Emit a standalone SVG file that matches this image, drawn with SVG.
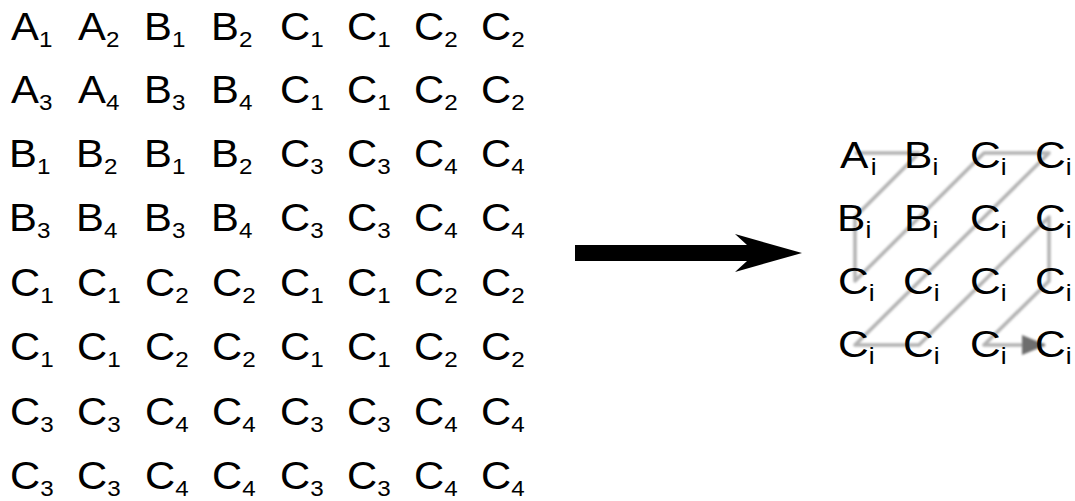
<svg xmlns="http://www.w3.org/2000/svg" width="1075" height="501" viewBox="0 0 1075 501">
<style>
.t{font-family:"Liberation Sans",Arial,sans-serif;font-size:38px;fill:#000}
.r{font-family:"Liberation Sans",Arial,sans-serif;font-size:37px;fill:#000}
.s{font-size:22px}
.si{font-size:23px}
.conn{fill:none;stroke:#b2b2b2;stroke-width:3.5;stroke-linejoin:round}
</style>
<defs>
<filter id="soft" x="-10%" y="-10%" width="120%" height="120%"><feGaussianBlur stdDeviation="1"/></filter>
<marker id="ah" markerWidth="24" markerHeight="20" refX="23" refY="10" orient="auto" markerUnits="userSpaceOnUse"><path d="M0,0 L24,10 L0,20 z" fill="#6e6e6e"/></marker>
</defs>
<rect width="1075" height="501" fill="#fff"/>
<g id="connectors">
<g filter="url(#soft)">
<path class="conn" d="M855 153 L919 153 L855 217 L855 281 L984 153 L1049 153 L855 345 L919 345 L1049 217 L1049 281 L984 345 L1045 345" marker-end="url(#ah)"/>
</g>
<polygon id="big-arrow" points="575,245 747,245 735,234 802,253 735,272 747,261 575,261" fill="#000"/>
</g>
<g id="left-grid">
<g id="n1_1" transform="translate(11 40) scale(1.1 1)"><text class="t">A<tspan class="s" dy="7">1</tspan></text></g>
<g id="n1_2" transform="translate(78 40) scale(1.1 1)"><text class="t">A<tspan class="s" dy="7">2</tspan></text></g>
<g id="n1_3" transform="translate(144 40) scale(1.1 1)"><text class="t">B<tspan class="s" dy="7">1</tspan></text></g>
<g id="n1_4" transform="translate(211 40) scale(1.1 1)"><text class="t">B<tspan class="s" dy="7">2</tspan></text></g>
<g id="n1_5" transform="translate(280 40) scale(1.1 1)"><text class="t">C<tspan class="s" dy="7">1</tspan></text></g>
<g id="n1_6" transform="translate(347 40) scale(1.1 1)"><text class="t">C<tspan class="s" dy="7">1</tspan></text></g>
<g id="n1_7" transform="translate(414 40) scale(1.1 1)"><text class="t">C<tspan class="s" dy="7">2</tspan></text></g>
<g id="n1_8" transform="translate(481 40) scale(1.1 1)"><text class="t">C<tspan class="s" dy="7">2</tspan></text></g>

<g id="n2_1" transform="translate(11 103) scale(1.1 1)"><text class="t">A<tspan class="s" dy="7">3</tspan></text></g>
<g id="n2_2" transform="translate(78 103) scale(1.1 1)"><text class="t">A<tspan class="s" dy="7">4</tspan></text></g>
<g id="n2_3" transform="translate(144 103) scale(1.1 1)"><text class="t">B<tspan class="s" dy="7">3</tspan></text></g>
<g id="n2_4" transform="translate(211 103) scale(1.1 1)"><text class="t">B<tspan class="s" dy="7">4</tspan></text></g>
<g id="n2_5" transform="translate(280 103) scale(1.1 1)"><text class="t">C<tspan class="s" dy="7">1</tspan></text></g>
<g id="n2_6" transform="translate(347 103) scale(1.1 1)"><text class="t">C<tspan class="s" dy="7">1</tspan></text></g>
<g id="n2_7" transform="translate(414 103) scale(1.1 1)"><text class="t">C<tspan class="s" dy="7">2</tspan></text></g>
<g id="n2_8" transform="translate(481 103) scale(1.1 1)"><text class="t">C<tspan class="s" dy="7">2</tspan></text></g>

<g id="n3_1" transform="translate(9 167) scale(1.1 1)"><text class="t">B<tspan class="s" dy="7">1</tspan></text></g>
<g id="n3_2" transform="translate(76 167) scale(1.1 1)"><text class="t">B<tspan class="s" dy="7">2</tspan></text></g>
<g id="n3_3" transform="translate(144 167) scale(1.1 1)"><text class="t">B<tspan class="s" dy="7">1</tspan></text></g>
<g id="n3_4" transform="translate(211 167) scale(1.1 1)"><text class="t">B<tspan class="s" dy="7">2</tspan></text></g>
<g id="n3_5" transform="translate(280 167) scale(1.1 1)"><text class="t">C<tspan class="s" dy="7">3</tspan></text></g>
<g id="n3_6" transform="translate(347 167) scale(1.1 1)"><text class="t">C<tspan class="s" dy="7">3</tspan></text></g>
<g id="n3_7" transform="translate(414 167) scale(1.1 1)"><text class="t">C<tspan class="s" dy="7">4</tspan></text></g>
<g id="n3_8" transform="translate(481 167) scale(1.1 1)"><text class="t">C<tspan class="s" dy="7">4</tspan></text></g>

<g id="n4_1" transform="translate(9 231) scale(1.1 1)"><text class="t">B<tspan class="s" dy="7">3</tspan></text></g>
<g id="n4_2" transform="translate(76 231) scale(1.1 1)"><text class="t">B<tspan class="s" dy="7">4</tspan></text></g>
<g id="n4_3" transform="translate(144 231) scale(1.1 1)"><text class="t">B<tspan class="s" dy="7">3</tspan></text></g>
<g id="n4_4" transform="translate(211 231) scale(1.1 1)"><text class="t">B<tspan class="s" dy="7">4</tspan></text></g>
<g id="n4_5" transform="translate(280 231) scale(1.1 1)"><text class="t">C<tspan class="s" dy="7">3</tspan></text></g>
<g id="n4_6" transform="translate(347 231) scale(1.1 1)"><text class="t">C<tspan class="s" dy="7">3</tspan></text></g>
<g id="n4_7" transform="translate(414 231) scale(1.1 1)"><text class="t">C<tspan class="s" dy="7">4</tspan></text></g>
<g id="n4_8" transform="translate(481 231) scale(1.1 1)"><text class="t">C<tspan class="s" dy="7">4</tspan></text></g>

<g id="n5_1" transform="translate(10 296) scale(1.1 1)"><text class="t">C<tspan class="s" dy="7">1</tspan></text></g>
<g id="n5_2" transform="translate(77 296) scale(1.1 1)"><text class="t">C<tspan class="s" dy="7">1</tspan></text></g>
<g id="n5_3" transform="translate(145 296) scale(1.1 1)"><text class="t">C<tspan class="s" dy="7">2</tspan></text></g>
<g id="n5_4" transform="translate(212 296) scale(1.1 1)"><text class="t">C<tspan class="s" dy="7">2</tspan></text></g>
<g id="n5_5" transform="translate(280 296) scale(1.1 1)"><text class="t">C<tspan class="s" dy="7">1</tspan></text></g>
<g id="n5_6" transform="translate(347 296) scale(1.1 1)"><text class="t">C<tspan class="s" dy="7">1</tspan></text></g>
<g id="n5_7" transform="translate(414 296) scale(1.1 1)"><text class="t">C<tspan class="s" dy="7">2</tspan></text></g>
<g id="n5_8" transform="translate(481 296) scale(1.1 1)"><text class="t">C<tspan class="s" dy="7">2</tspan></text></g>

<g id="n6_1" transform="translate(10 360) scale(1.1 1)"><text class="t">C<tspan class="s" dy="7">1</tspan></text></g>
<g id="n6_2" transform="translate(77 360) scale(1.1 1)"><text class="t">C<tspan class="s" dy="7">1</tspan></text></g>
<g id="n6_3" transform="translate(145 360) scale(1.1 1)"><text class="t">C<tspan class="s" dy="7">2</tspan></text></g>
<g id="n6_4" transform="translate(212 360) scale(1.1 1)"><text class="t">C<tspan class="s" dy="7">2</tspan></text></g>
<g id="n6_5" transform="translate(280 360) scale(1.1 1)"><text class="t">C<tspan class="s" dy="7">1</tspan></text></g>
<g id="n6_6" transform="translate(347 360) scale(1.1 1)"><text class="t">C<tspan class="s" dy="7">1</tspan></text></g>
<g id="n6_7" transform="translate(414 360) scale(1.1 1)"><text class="t">C<tspan class="s" dy="7">2</tspan></text></g>
<g id="n6_8" transform="translate(481 360) scale(1.1 1)"><text class="t">C<tspan class="s" dy="7">2</tspan></text></g>

<g id="n7_1" transform="translate(10 425) scale(1.1 1)"><text class="t">C<tspan class="s" dy="7">3</tspan></text></g>
<g id="n7_2" transform="translate(77 425) scale(1.1 1)"><text class="t">C<tspan class="s" dy="7">3</tspan></text></g>
<g id="n7_3" transform="translate(145 425) scale(1.1 1)"><text class="t">C<tspan class="s" dy="7">4</tspan></text></g>
<g id="n7_4" transform="translate(212 425) scale(1.1 1)"><text class="t">C<tspan class="s" dy="7">4</tspan></text></g>
<g id="n7_5" transform="translate(280 425) scale(1.1 1)"><text class="t">C<tspan class="s" dy="7">3</tspan></text></g>
<g id="n7_6" transform="translate(347 425) scale(1.1 1)"><text class="t">C<tspan class="s" dy="7">3</tspan></text></g>
<g id="n7_7" transform="translate(414 425) scale(1.1 1)"><text class="t">C<tspan class="s" dy="7">4</tspan></text></g>
<g id="n7_8" transform="translate(481 425) scale(1.1 1)"><text class="t">C<tspan class="s" dy="7">4</tspan></text></g>

<g id="n8_1" transform="translate(10 489) scale(1.1 1)"><text class="t">C<tspan class="s" dy="7">3</tspan></text></g>
<g id="n8_2" transform="translate(77 489) scale(1.1 1)"><text class="t">C<tspan class="s" dy="7">3</tspan></text></g>
<g id="n8_3" transform="translate(145 489) scale(1.1 1)"><text class="t">C<tspan class="s" dy="7">4</tspan></text></g>
<g id="n8_4" transform="translate(212 489) scale(1.1 1)"><text class="t">C<tspan class="s" dy="7">4</tspan></text></g>
<g id="n8_5" transform="translate(280 489) scale(1.1 1)"><text class="t">C<tspan class="s" dy="7">3</tspan></text></g>
<g id="n8_6" transform="translate(347 489) scale(1.1 1)"><text class="t">C<tspan class="s" dy="7">3</tspan></text></g>
<g id="n8_7" transform="translate(414 489) scale(1.1 1)"><text class="t">C<tspan class="s" dy="7">4</tspan></text></g>
<g id="n8_8" transform="translate(481 489) scale(1.1 1)"><text class="t">C<tspan class="s" dy="7">4</tspan></text></g>
</g>
<g id="right-grid">
<g id="m1_1" transform="translate(840 168) scale(1.15 1)"><text class="r">A<tspan class="si" dx="2" dy="7">i</tspan></text></g>
<g id="m1_2" transform="translate(904 168) scale(1.15 1)"><text class="r">B<tspan class="si" dy="7">i</tspan></text></g>
<g id="m1_3" transform="translate(970 168) scale(1.15 1)"><text class="r">C<tspan class="si" dy="7">i</tspan></text></g>
<g id="m1_4" transform="translate(1035 168) scale(1.15 1)"><text class="r">C<tspan class="si" dy="7">i</tspan></text></g>
<g id="m2_1" transform="translate(837 231) scale(1.15 1)"><text class="r">B<tspan class="si" dy="7">i</tspan></text></g>
<g id="m2_2" transform="translate(904 231) scale(1.15 1)"><text class="r">B<tspan class="si" dy="7">i</tspan></text></g>
<g id="m2_3" transform="translate(970 231) scale(1.15 1)"><text class="r">C<tspan class="si" dy="7">i</tspan></text></g>
<g id="m2_4" transform="translate(1035 231) scale(1.15 1)"><text class="r">C<tspan class="si" dy="7">i</tspan></text></g>
<g id="m3_1" transform="translate(838 294) scale(1.15 1)"><text class="r">C<tspan class="si" dy="7">i</tspan></text></g>
<g id="m3_2" transform="translate(903 294) scale(1.15 1)"><text class="r">C<tspan class="si" dy="7">i</tspan></text></g>
<g id="m3_3" transform="translate(970 294) scale(1.15 1)"><text class="r">C<tspan class="si" dy="7">i</tspan></text></g>
<g id="m3_4" transform="translate(1035 294) scale(1.15 1)"><text class="r">C<tspan class="si" dy="7">i</tspan></text></g>
<g id="m4_1" transform="translate(838 357) scale(1.15 1)"><text class="r">C<tspan class="si" dy="7">i</tspan></text></g>
<g id="m4_2" transform="translate(903 357) scale(1.15 1)"><text class="r">C<tspan class="si" dy="7">i</tspan></text></g>
<g id="m4_3" transform="translate(970 357) scale(1.15 1)"><text class="r">C<tspan class="si" dy="7">i</tspan></text></g>
<g id="m4_4" transform="translate(1035 357) scale(1.15 1)"><text class="r">C<tspan class="si" dy="7">i</tspan></text></g>
</g>
</svg>
